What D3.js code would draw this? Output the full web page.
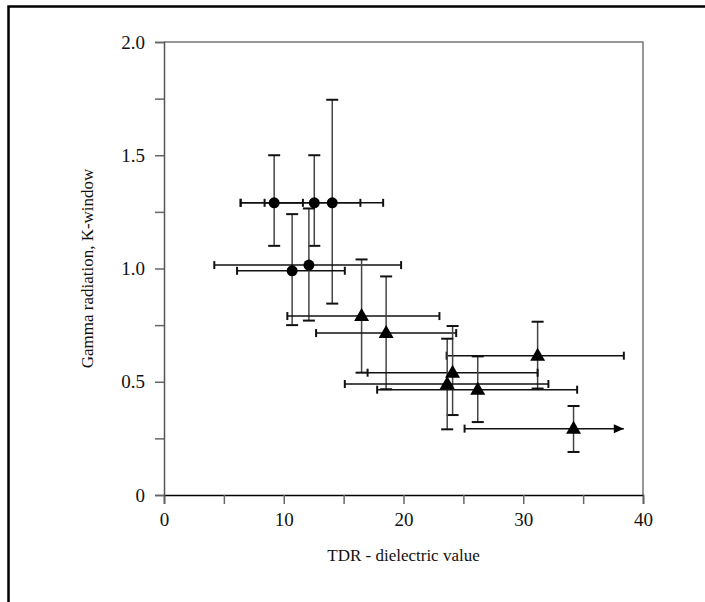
<!DOCTYPE html>
<html>
<head>
<meta charset="utf-8">
<script src="https://cdn.jsdelivr.net/npm/d3@7"></script>
<style>
  body { margin: 0; background: #fff; }
  svg { display: block; }
  svg text { font-family: "Liberation Serif", "DejaVu Serif", "Times New Roman", Times, serif !important; fill: #111; }
</style>
</head>
<body>
<div id="chart"></div>
<script>
// circles (first group)
var circleX    = [9.2, 12.55, 14.05, 10.7, 12.1];
var circleY    = [1.29, 1.29, 1.29, 0.99, 1.015];
var circleXlo  = [6.4, 8.4, 6.4, 6.1, 4.2];
var circleXhi  = [11.6, 16.4, 18.3, 15.1, 19.8];
var circleYlo  = [1.10, 1.10, 0.845, 0.75, 0.77];
var circleYhi  = [1.50, 1.50, 1.745, 1.24, 1.265];

// triangles (second group)
var triX    = [16.5, 18.55, 31.2, 24.1, 23.65, 26.2, 34.2];
var triY    = [0.79, 0.715, 0.615, 0.54, 0.49, 0.465, 0.293];
var triXlo  = [10.3, 12.7, 23.6, 17.0, 15.1, 17.8, 25.1];
var triXhi  = [23.0, 24.4, 38.4, 31.2, 32.1, 34.5, 38.4];
var triYlo  = [0.54, 0.467, 0.47, 0.353, 0.29, 0.322, 0.19];
var triYhi  = [1.04, 0.965, 0.765, 0.746, 0.69, 0.612, 0.393];
var triArrow = [false, false, false, false, false, false, true];

var xTicks = [0, 5, 10, 15, 20, 25, 30, 35, 40];
var yTicks = [0, 0.25, 0.5, 0.75, 1.0, 1.25, 1.5, 1.75, 2.0];

var W = 705, H = 602;
var margin = {top: 42, right: 62, bottom: 107, left: 164};
var width = W - margin.left - margin.right,
    height = H - margin.top - margin.bottom;

var root = d3.select("#chart").append("svg")
    .attr("width", W)
    .attr("height", H)
    .attr("font-family", "Liberation Serif, DejaVu Serif, serif");

// outer frame (top and left only)
root.append("path")
    .attr("d", "M8.5," + H + "V6.5H" + W)
    .attr("fill", "none")
    .attr("stroke", "#000")
    .attr("stroke-width", 2.5);

var svg = root.append("g")
    .attr("transform", `translate(${margin.left}, ${margin.top})`);

var x = d3.scaleLinear().domain([0, 40]).range([0, width]);
var y = d3.scaleLinear().domain([0, 2]).range([height, 0]);

// top and right border of plot
svg.append("path")
    .attr("d", `M0,0H${width}V${height}`)
    .attr("fill", "none")
    .attr("stroke", "#777")
    .attr("stroke-width", 1.5);

// X axis
var gx = svg.append("g")
    .attr("transform", `translate(0, ${height})`)
    .call(d3.axisBottom(x)
        .tickValues(xTicks)
        .tickSize(9)
        .tickPadding(9)
        .tickFormat(function(d) { return d % 10 === 0 ? d : ""; }));
gx.attr("font-family", null).attr("font-size", null);
gx.select(".domain").attr("stroke", "#000").attr("stroke-width", 1.5);
gx.selectAll(".tick line").attr("stroke", "#666").attr("stroke-width", 1.5);
gx.selectAll(".tick text").style("font-size", "19px");

// Y axis
var gy = svg.append("g")
    .call(d3.axisLeft(y)
        .tickValues(yTicks)
        .tickSize(9)
        .tickPadding(10)
        .tickFormat(function(d) {
            if (d === 0) return "0";
            return (d * 2) % 1 === 0 ? d3.format(".1f")(d) : "";
        }));
gy.attr("font-family", null).attr("font-size", null);
gy.select(".domain").attr("stroke", "#555").attr("stroke-width", 1.5);
gy.selectAll(".tick line").attr("stroke", "#666").attr("stroke-width", 1.5);
gy.selectAll(".tick text").style("font-size", "19px");

// axis titles
svg.append("text")
    .attr("x", width / 2)
    .attr("y", height + 66)
    .attr("text-anchor", "middle")
    .style("font-size", "17px")
    .text("TDR - dielectric value");

svg.append("text")
    .attr("transform", `translate(-71, ${height / 2}) rotate(-90)`)
    .attr("text-anchor", "middle")
    .style("font-size", "17px")
    .text("Gamma radiation, K-window");

function errorBars(xs, ys, xlo, xhi, ylo, yhi, arrows) {
    var g = svg.append("g");
    xs.forEach(function(v, i) {
        var cx = x(v), cy = y(ys[i]);
        // vertical bar
        g.append("line")
            .attr("x1", cx).attr("x2", cx)
            .attr("y1", y(ylo[i])).attr("y2", y(yhi[i]))
            .attr("stroke", "#444").attr("stroke-width", 1.5);
        [ylo[i], yhi[i]].forEach(function(e) {
            g.append("line")
                .attr("x1", cx - 6).attr("x2", cx + 6)
                .attr("y1", y(e)).attr("y2", y(e))
                .attr("stroke", "#111").attr("stroke-width", 2);
        });
        // horizontal bar
        g.append("line")
            .attr("x1", x(xlo[i])).attr("x2", x(xhi[i]))
            .attr("y1", cy).attr("y2", cy)
            .attr("stroke", "#111").attr("stroke-width", 1.5);
        g.append("line")
            .attr("x1", x(xlo[i])).attr("x2", x(xlo[i]))
            .attr("y1", cy - 4).attr("y2", cy + 4)
            .attr("stroke", "#111").attr("stroke-width", 2);
        if (arrows && arrows[i]) {
            var ax = x(xhi[i]);
            g.append("path")
                .attr("d", `M${ax},${cy}L${ax - 10},${cy - 4.5}L${ax - 10},${cy + 4.5}Z`)
                .attr("fill", "#000");
        } else {
            g.append("line")
                .attr("x1", x(xhi[i])).attr("x2", x(xhi[i]))
                .attr("y1", cy - 4).attr("y2", cy + 4)
                .attr("stroke", "#111").attr("stroke-width", 2);
        }
    });
}

errorBars(circleX, circleY, circleXlo, circleXhi, circleYlo, circleYhi, null);
errorBars(triX, triY, triXlo, triXhi, triYlo, triYhi, triArrow);

// circle markers
svg.selectAll("circle.pt")
    .data(circleX)
    .enter()
    .append("circle")
    .attr("class", "pt")
    .attr("cx", function(d) { return x(d); })
    .attr("cy", function(d, i) { return y(circleY[i]); })
    .attr("r", 5.5)
    .style("fill", "#000");

// triangle markers
svg.selectAll("path.tri")
    .data(triX)
    .enter()
    .append("path")
    .attr("class", "tri")
    .attr("d", function(d, i) {
        var cx = x(d), cy = y(triY[i]);
        return `M${cx},${cy - 8}L${cx + 7.5},${cy + 5}L${cx - 7.5},${cy + 5}Z`;
    })
    .style("fill", "#000");
</script>
</body>
</html>
